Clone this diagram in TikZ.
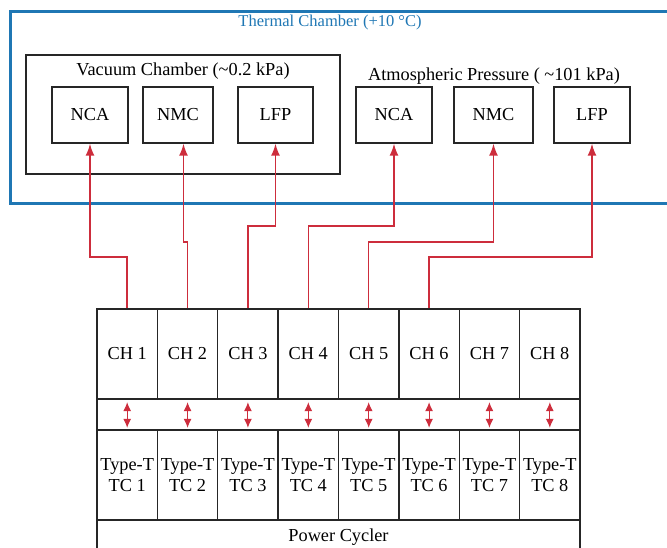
\documentclass[tikz,border=0pt]{standalone}
\usepackage{fontspec}
\setmainfont{Liberation Serif}
\usepackage{xcolor}
\usetikzlibrary{arrows.meta, positioning}
\definecolor{myblue}{RGB}{31, 119, 180}
\definecolor{myred}{RGB}{205, 45, 60}

\tikzset{
  txt/.style={font=\fontsize{18.3}{20.5}\selectfont},
  cell/.style={txt, draw=black!85, line width=1.4, minimum width=60.4pt, minimum height=90pt, inner sep=0pt, align=center},
  cellbox/.style={txt, draw=black!85, line width=1.4, minimum height=56pt, inner sep=0pt},
  wire/.style={color=myred, line width=1.5, -{Latex[length=12pt,width=9pt]}},
  dblwire/.style={color=myred, line width=1, {Latex[length=9pt,width=8pt]}-{Latex[length=9pt,width=8pt]}},
}

\begin{document}
\begin{tikzpicture}[x=1pt, y=-1pt]
\clip (0,0) rectangle (667,548);

%thermal chamber
\draw[color=myblue, line width=3] (10,12) rectangle (690,204);
\node[color=myblue, font=\fontsize{16.5}{19}\selectfont] (thtitle) at (330,23) {Thermal Chamber (+10 \textdegree C)};

%vacuum chamber
\draw[color=black!85, line width=1.4] (26,55) rectangle (340,174);
\node[txt] (vactitle) at (183,71) {Vacuum Chamber (\char`\~0.2 kPa)};
\node[cellbox, minimum width=76pt] (vnca) at (90,115) {NCA};
\node[cellbox, minimum width=70pt] (vnmc) at (178,115) {NMC};
\node[cellbox, minimum width=75pt] (vlfp) at (275.5,115) {LFP};

%atmospheric pressure
\node[txt] (atmtitle) at (494,76) {Atmospheric Pressure ( \char`\~101 kPa)};
\node[cellbox, minimum width=76pt] (anca) at (394,115) {NCA};
\node[cellbox, minimum width=79pt] (anmc) at (493.5,115) {NMC};
\node[cellbox, minimum width=76pt] (alfp) at (592,115) {LFP};

%power cycler channels and thermocouples
\draw[color=black!85, line width=1.4] (97,399) rectangle (580,430);
\foreach \i in {1,...,8}{
  \node[cell] (ch\i) at ({97+60.375*(\i-0.5)},354) {CH \i};
  \node[cell] (tc\i) at ({97+60.375*(\i-0.5)},475) {Type-T\\TC \i};
  \draw[dblwire] ([yshift=-2.5pt]ch\i.south) -- ([yshift=1.5pt]tc\i.north);
}
\node[cell, minimum width=483pt, minimum height=40pt, anchor=north] (pc) at (338.5,520) {};
\node[txt] (pctitle) at (338.5,537) {Power Cycler};

%cables from channels to cells
\draw[wire] (ch1.north) -- (ch1.north |- 0,257) -| (vnca.south);
\draw[wire] (ch2.north) -- (ch2.north |- 0,242) -| ([xshift=5.5pt]vnmc.south);
\draw[wire] (ch3.north) -- (ch3.north |- 0,226) -| (vlfp.south);
\draw[wire] (ch4.north) -- (ch4.north |- 0,226) -| (anca.south);
\draw[wire] (ch5.north) -- (ch5.north |- 0,242) -| (anmc.south);
\draw[wire] (ch6.north) -- (ch6.north |- 0,257) -| (alfp.south);

\end{tikzpicture}
\end{document}
